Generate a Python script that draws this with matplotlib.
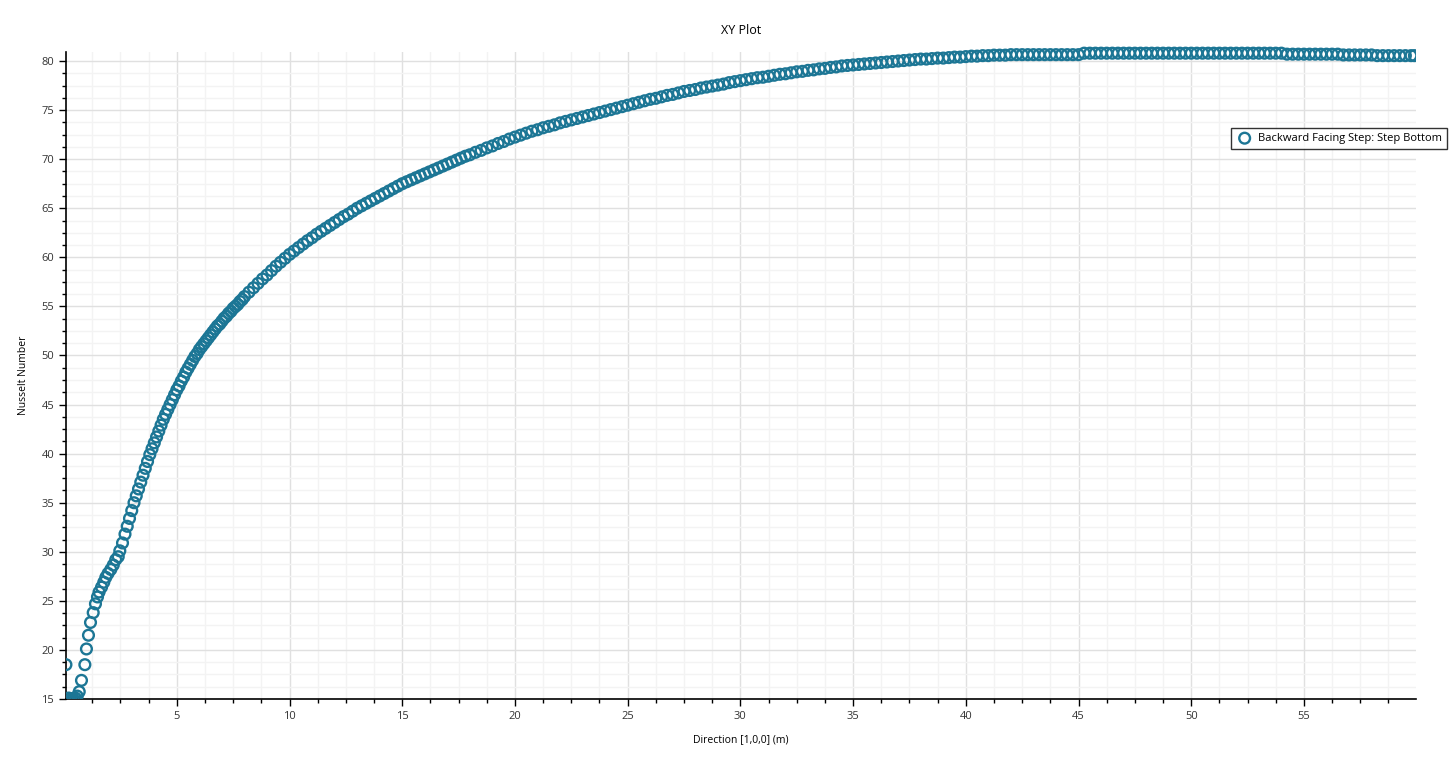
import numpy as np
import matplotlib.pyplot as plt
from matplotlib.patches import Rectangle
from matplotlib.ticker import MultipleLocator

plt.rcParams['font.family'] = ['Open Sans', 'DejaVu Sans']

# Direction [1,0,0] (m) and Nusselt number
x_start = [0.08, 0.2, 0.3, 0.4, 0.5, 0.58, 0.67, 0.77, 0.92, 0.99, 1.08, 1.17, 1.29,
           1.39, 1.48, 1.55, 1.66, 1.76, 1.85, 1.95, 2.07, 2.18, 2.29, 2.40, 2.47, 2.59]
nu_start = [18.5, 15.1, 15.0, 15.05, 15.1, 15.3, 15.75, 16.9, 18.5, 20.1, 21.5, 22.8, 23.8,
            24.7, 25.4, 25.9, 26.4, 26.9, 27.4, 27.8, 28.2, 28.65, 29.2, 29.5, 30.1, 30.9]

x_steep = [2.7, 2.8, 2.9, 3.0, 3.1, 3.2, 3.3, 3.4, 3.5, 3.6, 3.7, 3.8, 3.9, 4.0,
           4.1, 4.2, 4.3, 4.4, 4.5, 4.6, 4.7, 4.8, 4.9, 5.0, 5.1, 5.2, 5.3, 5.4,
           5.5, 5.6, 5.7, 5.8, 5.9, 6.0, 6.1, 6.2, 6.3, 6.4, 6.5, 6.6, 6.7, 6.8,
           6.9, 7.0, 7.1, 7.2, 7.3, 7.4, 7.5, 7.6, 7.7, 7.8, 7.9, 8.0]
nu_steep = [31.8, 32.6, 33.4, 34.2, 35.0, 35.7, 36.4, 37.1, 37.8, 38.5, 39.2, 39.9, 40.5, 41.1,
            41.7, 42.3, 42.9, 43.5, 44.0, 44.5, 45.0, 45.5, 46.0, 46.5, 46.9, 47.4, 47.8, 48.3,
            48.7, 49.1, 49.5, 49.9, 50.2, 50.6, 50.9, 51.2, 51.5, 51.8, 52.1, 52.4, 52.7, 53.0,
            53.2, 53.5, 53.8, 54.0, 54.3, 54.5, 54.8, 55.0, 55.2, 55.5, 55.7, 56.0]

x_mid = [8.2, 8.4, 8.6, 8.8, 9.0, 9.2, 9.4, 9.6, 9.8, 10.0, 10.2, 10.4, 10.6, 10.8,
         11.0, 11.2, 11.4, 11.6, 11.8, 12.0, 12.2, 12.4, 12.6, 12.8, 13.0, 13.2, 13.4,
         13.6, 13.8, 14.0, 14.2, 14.4, 14.6, 14.8, 15.0, 15.2, 15.4, 15.6, 15.8, 16.0,
         16.2, 16.4, 16.6, 16.8, 17.0, 17.2, 17.4, 17.6, 17.8, 18.0]
nu_mid = [56.45, 56.9, 57.35, 57.8, 58.2, 58.65, 59.1, 59.5, 59.9, 60.3, 60.65, 61.0, 61.35, 61.7,
          62.0, 62.35, 62.65, 62.95, 63.25, 63.55, 63.85, 64.15, 64.4, 64.7, 65.0, 65.25, 65.5,
          65.75, 66.0, 66.25, 66.5, 66.75, 67.0, 67.25, 67.5, 67.7, 67.9, 68.1, 68.3, 68.5,
          68.7, 68.9, 69.1, 69.3, 69.5, 69.7, 69.9, 70.1, 70.3, 70.45]

x_tail = [18.25, 18.5, 18.75, 19.0, 19.25, 19.5, 19.75, 20.0, 20.25, 20.5, 20.75, 21.0,
          21.25, 21.5, 21.75, 22.0, 22.25, 22.5, 22.75, 23.0, 23.25, 23.5, 23.75, 24.0,
          24.25, 24.5, 24.75, 25.0, 25.25, 25.5, 25.75, 26.0, 26.25, 26.5, 26.75, 27.0,
          27.25, 27.5, 27.75, 28.0, 28.25, 28.5, 28.75, 29.0, 29.25, 29.5, 29.75, 30.0,
          30.25, 30.5, 30.75, 31.0, 31.25, 31.5, 31.75, 32.0, 32.25, 32.5, 32.75, 33.0,
          33.25, 33.5, 33.75, 34.0, 34.25, 34.5, 34.75, 35.0, 35.25, 35.5, 35.75, 36.0,
          36.25, 36.5, 36.75, 37.0, 37.25, 37.5, 37.75, 38.0, 38.25, 38.5, 38.75, 39.0,
          39.25, 39.5, 39.75, 40.0, 40.25, 40.5, 40.75, 41.0, 41.25, 41.5, 41.75, 42.0,
          42.25, 42.5, 42.75, 43.0, 43.25, 43.5, 43.75, 44.0, 44.25, 44.5, 44.75, 45.0,
          45.25, 45.5, 45.75, 46.0, 46.25, 46.5, 46.75, 47.0, 47.25, 47.5, 47.75, 48.0,
          48.25, 48.5, 48.75, 49.0, 49.25, 49.5, 49.75, 50.0, 50.25, 50.5, 50.75, 51.0,
          51.25, 51.5, 51.75, 52.0, 52.25, 52.5, 52.75, 53.0, 53.25, 53.5, 53.75, 54.0,
          54.25, 54.5, 54.75, 55.0, 55.25, 55.5, 55.75, 56.0, 56.25, 56.5, 56.75, 57.0,
          57.25, 57.5, 57.75, 58.0, 58.25, 58.5, 58.75, 59.0, 59.25, 59.5, 59.75, 59.9]
nu_tail = [70.7, 70.9, 71.15, 71.35, 71.6, 71.8, 72.05, 72.25, 72.45, 72.65, 72.85, 73.0,
           73.2, 73.35, 73.5, 73.7, 73.85, 74.0, 74.15, 74.3, 74.45, 74.6, 74.75, 74.9,
           75.05, 75.2, 75.35, 75.5, 75.65, 75.8, 75.95, 76.1, 76.2, 76.35, 76.5, 76.6,
           76.75, 76.9, 77.0, 77.1, 77.25, 77.35, 77.45, 77.55, 77.65, 77.8, 77.9, 78.0,
           78.1, 78.2, 78.3, 78.35, 78.45, 78.55, 78.65, 78.7, 78.8, 78.9, 78.95, 79.05,
           79.1, 79.2, 79.25, 79.35, 79.4, 79.5, 79.55, 79.6, 79.65, 79.7, 79.75, 79.8,
           79.85, 79.9, 79.95, 80.0, 80.05, 80.1, 80.15, 80.2, 80.2, 80.25, 80.3, 80.3,
           80.35, 80.4, 80.4, 80.45, 80.5, 80.5, 80.55, 80.55, 80.6, 80.6, 80.6, 80.65,
           80.65, 80.65, 80.65, 80.65, 80.65, 80.65, 80.65, 80.65, 80.65, 80.65, 80.65, 80.65,
           80.8, 80.8, 80.8, 80.8, 80.8, 80.8, 80.8, 80.8, 80.8, 80.8, 80.8, 80.8,
           80.8, 80.8, 80.8, 80.8, 80.8, 80.8, 80.8, 80.8, 80.8, 80.8, 80.8, 80.8,
           80.8, 80.8, 80.8, 80.8, 80.8, 80.8, 80.8, 80.8, 80.8, 80.8, 80.8, 80.8,
           80.7, 80.7, 80.7, 80.7, 80.7, 80.7, 80.7, 80.7, 80.7, 80.7, 80.62, 80.62,
           80.62, 80.62, 80.62, 80.62, 80.55, 80.55, 80.55, 80.55, 80.55, 80.55, 80.55, 80.55]

series_label = 'Backward Facing Step: Step Bottom'
x = np.array(x_start + x_steep + x_mid + x_tail)
nu = np.array(nu_start + nu_steep + nu_mid + nu_tail)

fig = plt.figure(figsize=(14.49, 7.58), dpi=100)
ax = fig.add_axes([0.0455, 0.0778, 0.9317, 0.8536])

sc = ax.scatter(x, nu, s=60, facecolors='none', edgecolors='#1c7695',
                linewidths=1.7, label=series_label, zorder=3)
# let the markers spill over the top edge but not below the x axis
sc.set_clip_path(Rectangle((0, 0), 1, 1.1, transform=ax.transAxes))

ax.set_xlim(0.08, 59.97)
ax.set_ylim(15, 80.92)
ax.xaxis.set_major_locator(MultipleLocator(5))
ax.xaxis.set_minor_locator(MultipleLocator(1.25))
ax.yaxis.set_major_locator(MultipleLocator(5))
ax.yaxis.set_minor_locator(MultipleLocator(1.25))

ax.grid(which='major', color='#e0e0e0', linewidth=1.0)
ax.grid(which='minor', color='#f3f3f3', linewidth=1.0)
ax.set_axisbelow(True)

for s in ['top', 'right']:
    ax.spines[s].set_visible(False)
for s in ['left', 'bottom']:
    ax.spines[s].set_linewidth(1.2)
ax.tick_params(which='major', length=5, width=1.0, labelsize=8)
ax.tick_params(which='minor', length=3, width=1.0)
ax.tick_params(colors='black', which='both', labelcolor='#333333')

ax.set_xlabel('Direction [1,0,0] (m)', fontsize=7.5, labelpad=9)
ax.set_ylabel('Nusselt Number', fontsize=7.5, labelpad=9)
fig.text(0.5114, 0.96, 'XY Plot', ha='center', va='center', fontsize=9)

leg = fig.legend(loc='upper right', bbox_to_anchor=(0.9986, 0.831), fontsize=8,
                 frameon=True, fancybox=False, edgecolor='black', borderpad=0.45,
                 borderaxespad=0, handletextpad=0.4, handlelength=1.6)
leg.get_frame().set_linewidth(1.0)

fig.savefig('out.png', dpi=100)
